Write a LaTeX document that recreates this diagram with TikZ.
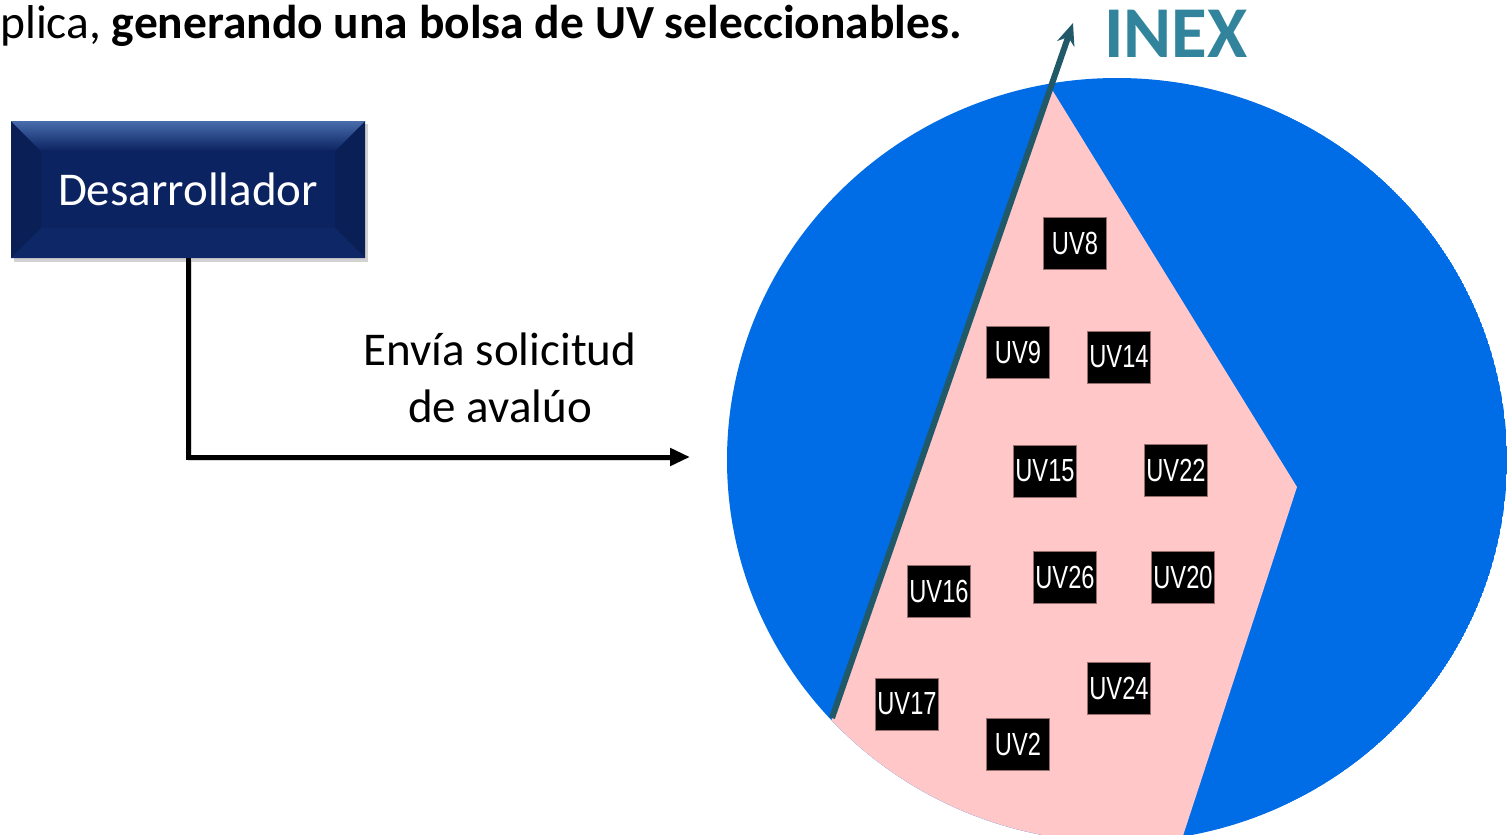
\documentclass[tikz,border=0pt]{standalone}
\usepackage{fontspec}
\setmainfont{Carlito}
\newfontfamily\uvfont[FakeStretch=0.74]{Liberation Sans}
\usetikzlibrary{arrows.meta}
\definecolor{cblue}{RGB}{0,108,230}
\definecolor{cpink}{RGB}{255,199,199}
\definecolor{tealline}{RGB}{33,89,104}
\definecolor{inexcol}{RGB}{49,132,155}
\definecolor{navy}{RGB}{12,35,97}
\definecolor{navytop}{RGB}{72,108,172}
\definecolor{navyside}{RGB}{10,31,86}
\definecolor{navybot}{RGB}{14,39,102}
\definecolor{uvedge}{RGB}{150,110,110}
\begin{document}
\begin{tikzpicture}[x=1pt,y=-1pt,
  uvbox/.style={fill=black, draw=uvedge, line width=0.6pt, minimum width=63pt,
    minimum height=52pt, inner sep=0pt, text=white,
    font=\uvfont\fontsize{32}{32}\selectfont},
  desabox/.style={fill=navy, minimum width=354pt, minimum height=137pt, inner sep=0pt,
    text=white, font=\fontsize{47}{47}\selectfont,
    path picture={
      \fill[navyside] (path picture bounding box.north west) -- ++(30,30) -- ++(0,77) -- (path picture bounding box.south west) -- cycle;
      \fill[navyside] (path picture bounding box.north east) -- ++(-30,30) -- ++(0,77) -- (path picture bounding box.south east) -- cycle;
      \fill[navybot] (path picture bounding box.south west) -- ++(30,-30) -- ++(294,0) -- (path picture bounding box.south east) -- cycle;
      \shade[top color=navytop, bottom color=navy] (path picture bounding box.north west) -- (path picture bounding box.north east) -- ++(-30,30) -- ++(-294,0) -- cycle;
    }},
  lbl/.style={font=\fontsize{47}{57}\selectfont, align=center, inner sep=0pt},
  uvarrow/.style={draw=tealline, line width=6pt, -{Stealth[length=22pt,width=18pt]}},
  sendarrow/.style={draw=black, line width=5pt, -{Triangle[length=20pt,width=17pt]}}
]
\useasboundingbox (0,0) rectangle (1507,835);
\fill[white] (0,0) rectangle (1507,835);

% heading text
\node[anchor=base west, inner sep=0pt, font=\fontsize{47.5}{47.5}\selectfont] (head) at (0,38)
  {plica, \textbf{generando una bolsa de UV seleccionables.}};

% INEX circle
\begin{scope}
  \clip (1117,460) ellipse [x radius=390pt, y radius=382pt];
  \fill[cblue] (1117,460) ellipse [x radius=390pt, y radius=382pt];
  \fill[cpink] (1051,88) -- (1297,487) -- (1162,900) -- (769,900) -- cycle;
\end{scope}

\coordinate (lnS) at (832,718);
\coordinate (lnE) at (1073,23);
\draw[uvarrow] (lnS) -- (lnE);

\node[anchor=base west, inner sep=0pt, text=inexcol, font=\bfseries\fontsize{73}{73}\selectfont] (inex) at (1104,57) {INEX};

% UV boxes
\node[uvbox] (uv8)  at (1075,243) {UV8};
\node[uvbox] (uv9)  at (1018,352) {UV9};
\node[uvbox] (uv14) at (1119,357) {UV14};
\node[uvbox] (uv15) at (1045,471) {UV15};
\node[uvbox] (uv22) at (1176,470) {UV22};
\node[uvbox] (uv16) at (939,591) {UV16};
\node[uvbox] (uv26) at (1065,577) {UV26};
\node[uvbox] (uv20) at (1183,577) {UV20};
\node[uvbox] (uv17) at (907,704) {UV17};
\node[uvbox] (uv2)  at (1018,744) {UV2};
\node[uvbox] (uv24) at (1119,688) {UV24};

% Desarrollador
\fill[black!35, opacity=0.5] (14,124) rectangle (368,262);
\node[desabox] (desa) at (188,189.5) {Desarrollador};

\coordinate (tip) at (690,457);
\draw[black!30, line width=4pt, opacity=0.5] ([xshift=2pt,yshift=-2pt]desa.south) |- ([xshift=-18pt,yshift=-2pt]tip);
\draw[sendarrow] (desa.south) |- (tip);

\node[lbl] (send) at (500,378) {Envía solicitud\\de avalúo};
\end{tikzpicture}
\end{document}
